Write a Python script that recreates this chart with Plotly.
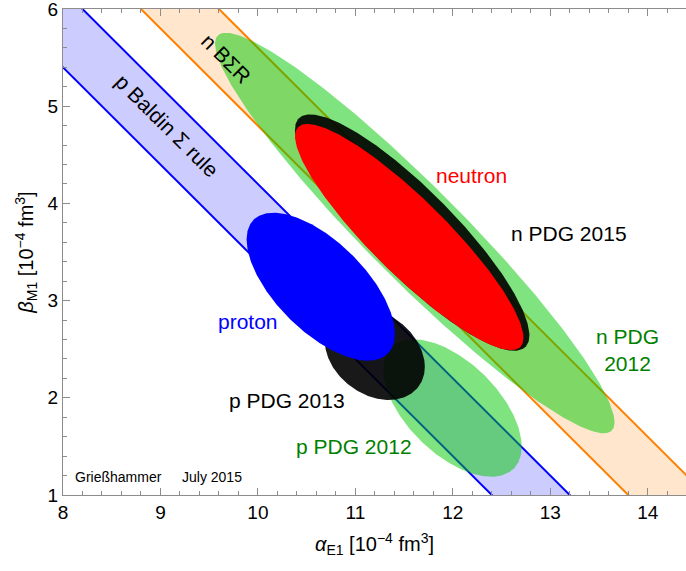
import numpy as np
import plotly.graph_objects as go

# Baldin sum rule bands: alpha + beta = S +- dS
band_names = ["p Baldin", "n BSR"]
band_sum = [13.8, 15.2]
band_err = [0.4, 0.4]
band_line_colors = ["rgb(0,0,255)", "rgb(255,128,0)"]
band_fill_colors = ["rgba(0,0,255,0.2)", "rgba(255,128,0,0.2)"]

# ellipses (drawing order): centre alpha, centre beta, half-width alpha, half-width beta, correlation
ell_names = ["n PDG 2012", "n PDG 2015", "neutron", "p PDG 2012", "p PDG 2013", "proton"]
ell_alpha = [11.61, 11.583, 11.553, 11.997, 11.20, 10.645]
ell_beta = [3.695, 3.70, 3.654, 1.895, 2.451, 3.143]
ell_dalpha = [2.05, 1.203, 1.172, 0.710, 0.513, 0.761]
ell_dbeta = [2.06, 1.216, 1.163, 0.707, 0.473, 0.761]
ell_corr = [-0.945, -0.87, -0.891, -0.56, -0.28, -0.637]
ell_colors = ["rgba(0,200,0,0.5)", "rgba(0,0,0,0.9)", "rgb(255,0,0)",
              "rgba(0,200,0,0.5)", "rgba(0,0,0,0.9)", "rgb(0,0,255)"]

# text labels
lab_text = ["neutron", "n PDG 2015", "n PDG<br>2012", "proton", "p PDG 2013", "p PDG 2012"]
lab_x = [12.187, 13.195, 13.788, 9.898, 10.295, 10.988]
lab_y = [4.292, 3.692, 2.495, 2.783, 1.977, 1.497]
lab_colors = ["rgb(255,0,0)", "black", "rgb(0,128,0)", "rgb(0,0,255)", "black", "rgb(0,128,0)"]

rot_text = ["p Baldin Σ rule", "n BΣR"]
rot_x = [9.064, 9.673]
rot_y = [4.798, 5.486]

x_ticks = [8, 9, 10, 11, 12, 13, 14]
y_ticks = [1, 2, 3, 4, 5, 6]
x_range = [8, 14.393]
y_range = [1, 6]

fig = go.Figure()

# bands
for s, e, lc, fc in zip(band_sum, band_err, band_line_colors, band_fill_colors):
    lo, hi = s - e, s + e
    fig.add_trace(go.Scatter(
        x=[lo - 7, lo, hi, hi - 7, lo - 7], y=[7, 0, 0, 7, 7],
        mode="lines", fill="toself", fillcolor=fc, line=dict(width=0),
        hoverinfo="skip", showlegend=False))
    for v in (lo, hi):
        fig.add_trace(go.Scatter(x=[v - 7, v], y=[7, 0], mode="lines",
                                 line=dict(color=lc, width=2), hoverinfo="skip",
                                 showlegend=False))

# ellipses
t = np.linspace(0, 2 * np.pi, 361)
for name, cx, cy, sx, sy, r, col in zip(ell_names, ell_alpha, ell_beta, ell_dalpha,
                                        ell_dbeta, ell_corr, ell_colors):
    phi = np.arccos(r)
    ex = cx + sx * np.cos(t)
    ey = cy + sy * np.cos(t + phi)
    fig.add_trace(go.Scatter(x=ex, y=ey, mode="lines", fill="toself", fillcolor=col,
                             line=dict(width=0), name=name, hoverinfo="name",
                             showlegend=False))

FONT = "Liberation Sans, Arial, sans-serif"

for txt, x, y, c in zip(lab_text, lab_x, lab_y, lab_colors):
    fig.add_annotation(x=x, y=y, text=txt, showarrow=False,
                       font=dict(family=FONT, size=21, color=c))

for txt, x, y in zip(rot_text, rot_x, rot_y):
    fig.add_annotation(x=x, y=y, text=txt, showarrow=False, textangle=44.9,
                       font=dict(family=FONT, size=21, color="black"))

fig.add_annotation(x=8.106, y=1.188, text="Grießhammer", showarrow=False, xanchor="left",
                   font=dict(family=FONT, size=14, color="black"))
fig.add_annotation(x=9.20, y=1.188, text="July 2015", showarrow=False, xanchor="left",
                   font=dict(family=FONT, size=14, color="black"))

axis_common = dict(
    showgrid=False, zeroline=False, showline=True, linecolor="rgb(140,140,140)",
    linewidth=1, ticks="inside", ticklen=7, tickcolor="rgb(140,140,140)",
    tickfont=dict(family=FONT, size=19, color="black"), tickmode="array",
    ticklabeloverflow="allow",
    minor=dict(ticks="inside", ticklen=4, dtick=0.2, tickcolor="rgb(140,140,140)", showgrid=False),
)

fig.update_xaxes(range=x_range, mirror="ticks", tickvals=x_ticks,
                 title=dict(text="<i>α</i><sub>E1</sub> [10<sup>−4</sup> fm<sup>3</sup>]",
                            font=dict(family=FONT, size=20, color="black"), standoff=15),
                 **axis_common)
fig.update_yaxes(range=y_range, mirror=False, tickvals=y_ticks,
                 title=dict(text="<i>β</i><sub>M1</sub> [10<sup>−4</sup> fm<sup>3</sup>]",
                            font=dict(family=FONT, size=20, color="black"), standoff=8),
                 **axis_common)

fig.update_layout(width=686, height=571, margin=dict(l=63, r=0, t=9, b=76),
                  plot_bgcolor="white", paper_bgcolor="white", showlegend=False)

fig.write_html("out.html")
